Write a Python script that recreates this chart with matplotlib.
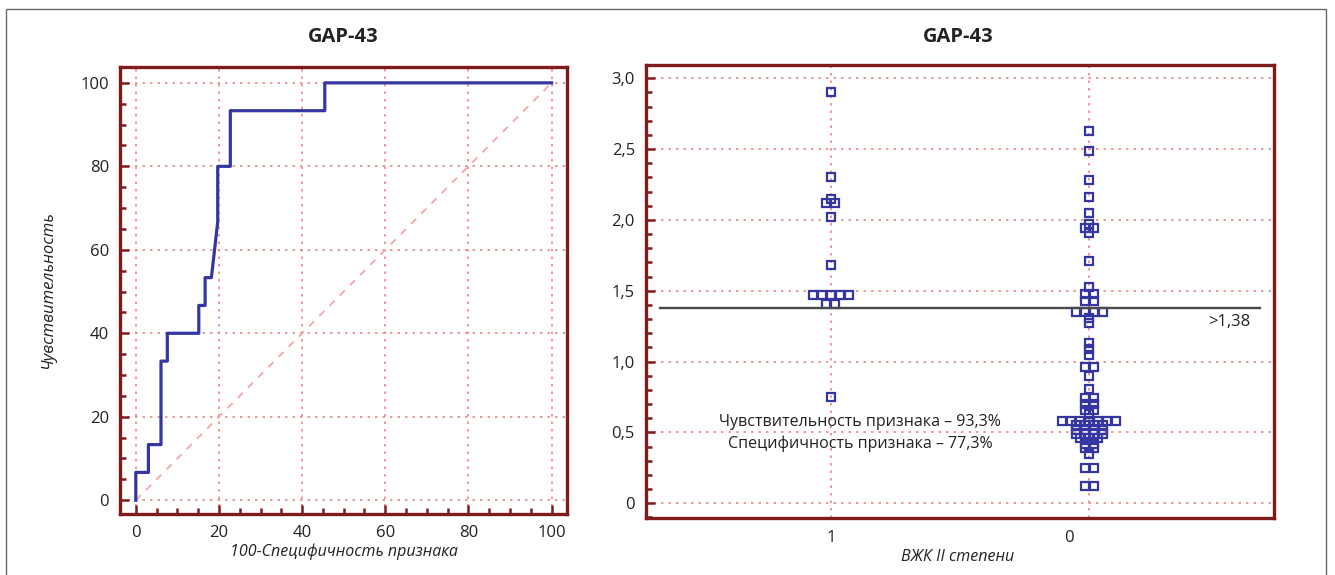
import matplotlib
matplotlib.use("Agg")
import matplotlib.pyplot as plt
from matplotlib.ticker import MultipleLocator
from matplotlib.transforms import ScaledTranslation
from matplotlib.patches import Rectangle

plt.rcParams['font.family'] = ['Open Sans', 'DejaVu Sans']

title = "GAP-43"

# ROC curve (100-specificity, sensitivity), %
roc_fpr = [0, 0, 3.03, 3.03, 6.06, 6.06, 7.58, 7.58, 15.15, 15.15, 16.67, 16.67,
           18.18, 19.70, 19.70, 22.73, 22.73, 45.45, 45.45, 100]
roc_tpr = [0, 6.67, 6.67, 13.33, 13.33, 33.33, 33.33, 40, 40, 46.67, 46.67, 53.33,
           53.33, 66.67, 80, 80, 93.33, 93.33, 100, 100]

# dot plot
group_labels = ["1", "0"]
group1 = [2.90, 2.30, 2.15, 2.12, 2.12, 2.02, 1.68,
          1.47, 1.47, 1.47, 1.47, 1.47, 1.41, 1.41, 0.75]
group0 = [2.63, 2.49, 2.28, 2.16, 2.05,
          1.97, 1.94, 1.94, 1.91,
          1.71, 1.53, 1.48, 1.48, 1.43, 1.43,
          1.35, 1.35, 1.35, 1.35, 1.31, 1.27,
          1.13, 1.09, 1.05, 0.96, 0.96, 0.90, 0.81,
          0.74, 0.74, 0.70, 0.70, 0.66, 0.66, 0.63,
          0.58, 0.58, 0.58, 0.58, 0.58, 0.58, 0.58,
          0.55, 0.55, 0.55, 0.55,
          0.52, 0.52, 0.52, 0.52,
          0.49, 0.49, 0.49, 0.49,
          0.46, 0.46, 0.46,
          0.42, 0.42, 0.39, 0.39, 0.35,
          0.25, 0.25, 0.12, 0.12]
cutoff = 1.38
cutoff_label = ">1,38"
sens_text = "Чувствительность признака – 93,3%"
spec_text = "Специфичность признака – 77,3%"
y_ticks = [0, 0.5, 1.0, 1.5, 2.0, 2.5, 3.0]
y_ticklabels = ["0", "0,5", "1,0", "1,5", "2,0", "2,5", "3,0"]

W, H = 1335, 575
fig = plt.figure(figsize=(W / 100, H / 100), dpi=100)


def box(x0, y0, x1, y1):
    return [x0 / W, 1 - y1 / H, (x1 - x0) / W, (y1 - y0) / H]


def spread(values, center, dx):
    counts = {}
    for v in values:
        counts[v] = counts.get(v, 0) + 1
    seen = {}
    xs = []
    for v in values:
        k = seen.get(v, 0)
        seen[v] = k + 1
        xs.append(center + (k - (counts[v] - 1) / 2) * dx)
    return xs


frame = "#7e1c1c"
grid_c = "#e08c8c"
blue = "#3636a2"
txt = "#222222"

ax1 = fig.add_axes(box(120, 67, 567, 514))
ax2 = fig.add_axes(box(646, 65, 1274, 518))

for ax in (ax1, ax2):
    for s in ax.spines.values():
        s.set_color(frame)
        s.set_linewidth(2.4)
    ax.tick_params(which='both', direction='in', color=frame, width=1.8,
                   labelsize=12, labelcolor=txt, pad=8)
    ax.tick_params(which='major', length=6.5)
    ax.tick_params(which='minor', length=4)
    ax.set_axisbelow(True)
    ax.grid(True, which='major', color=grid_c, linestyle=(0, (1.5, 3)), lw=1.2)

# left: ROC
ax1.plot([0, 100], [0, 100], color='#f0a8a8', lw=1.3, ls=(0, (4, 4)))
ax1.plot(roc_fpr, roc_tpr, color=blue, lw=2.3)
ax1.set_xlim(-3.8, 103.7)
ax1.set_ylim(-3.3, 103.8)
ax1.xaxis.set_major_locator(MultipleLocator(20))
ax1.xaxis.set_minor_locator(MultipleLocator(5))
ax1.yaxis.set_major_locator(MultipleLocator(20))
ax1.yaxis.set_minor_locator(MultipleLocator(5))

# right: dot plot
dx = 9 / 258
for pos, vals in zip([1, 2], [group1, group0]):
    ax2.plot(spread(vals, pos, dx), vals, ls='none', marker='s', ms=5.4,
             mfc='none', mec=blue, mew=1.6)
ax2.axhline(cutoff, xmin=0.022, xmax=0.978, color='#4a4a4a', lw=1.7)
ax2.text(0.962, 1.28, cutoff_label, transform=ax2.get_yaxis_transform(),
         ha='right', va='center', fontsize=12, color=txt)
ax2.text(0.341, 0.576, sens_text, transform=ax2.get_yaxis_transform(),
         ha='center', va='center', fontsize=11.5, color=txt)
ax2.text(0.341, 0.423, spec_text, transform=ax2.get_yaxis_transform(),
         ha='center', va='center', fontsize=11.5, color=txt)
ax2.set_xlim(0.283, 2.717)
ax2.set_ylim(-0.104, 3.094)
ax2.set_xticks([1, 2], group_labels)
ax2.set_yticks(y_ticks, y_ticklabels)
ax2.yaxis.set_minor_locator(MultipleLocator(0.1))
ax2.tick_params(axis='x', length=0, pad=9)
lab0 = ax2.get_xticklabels()[1]
lab0.set_transform(lab0.get_transform() + ScaledTranslation(-0.2, 0, fig.dpi_scale_trans))

# titles and axis labels
fig.text(343.5 / W, 1 - 37 / H, title, ha='center', va='center', fontsize=14.5,
         fontweight='bold', color=txt)
fig.text(958 / W, 1 - 37 / H, title, ha='center', va='center', fontsize=14.5,
         fontweight='bold', color=txt)
fig.text(343.5 / W, 1 - 552 / H, "100-Специфичность признака", ha='center',
         va='center', fontsize=11.5, style='italic', color=txt)
fig.text(48 / W, 1 - 290 / H, "Чувствительность", ha='center', va='center',
         rotation=90, fontsize=12, style='italic', color=txt)
fig.text(958 / W, 1 - 557 / H, "ВЖК II степени", ha='center', va='center',
         fontsize=11.5, style='italic', color=txt)

# outer border
fig.add_artist(Rectangle((6 / W, -0.05), (1326 - 6) / W, 1 - 9 / H + 0.05,
                         transform=fig.transFigure, fill=False, ec='#666666', lw=1))

fig.savefig("out.png", dpi=100)
